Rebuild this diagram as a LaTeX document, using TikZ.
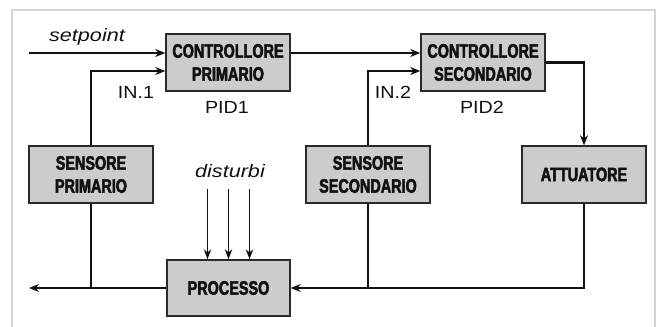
\documentclass[tikz,border=0pt]{standalone}
\usepackage{fontspec}
\setmainfont{Liberation Sans}
\newfontfamily\boxfont[FakeStretch=0.74, FakeBold=2.5]{Liberation Sans Bold}
\newfontfamily\lblfont[FakeStretch=1.12]{Liberation Sans}
\newfontfamily\itfont[FakeStretch=1.2]{Liberation Sans Italic}
\usetikzlibrary{arrows.meta,calc}
\definecolor{boxfill}{HTML}{CCCCCC}
\definecolor{boxdraw}{HTML}{2A2A2A}
\definecolor{framegray}{HTML}{D4D4D4}
\definecolor{ink}{HTML}{111111}
\tikzset{
  blockbox/.style={draw=boxdraw, fill=boxfill, line width=1.1pt, minimum width=124*0.75pt, minimum height=57*0.75pt, inner sep=0pt, align=center, font=\boxfont\fontsize{14.6}{17.25}\selectfont, text=ink},
  sig/.style={draw=ink, line width=1.8pt, -{Stealth[length=7.5pt,width=6pt]}},
  plain/.style={draw=ink, line width=1.8pt},
  dist/.style={draw=ink, line width=1.1pt, -{Stealth[length=7.5pt,width=5.5pt]}},
  lbl/.style={font=\lblfont\fontsize{13.2}{15}\selectfont, text=ink, anchor=base, inner sep=0pt},
  itlbl/.style={font=\itfont\fontsize{13.5}{15}\selectfont, text=ink, anchor=base, inner sep=0pt}
}
\begin{document}
\begin{tikzpicture}[x=0.75pt, y=-0.75pt]
\useasboundingbox (0,0) rectangle (657,327);
% frame
\draw[framegray, line width=0.8pt] (12,330) -- (12,10) -- (655,10) -- (655,330);
% blocks
\node[blockbox] (cp) at (228,62.5) {CONTROLLORE\\PRIMARIO};
\node[blockbox] (cs) at (483,62.5) {CONTROLLORE\\SECONDARIO};
\node[blockbox] (sp) at (91,174.5) {SENSORE\\PRIMARIO};
\node[blockbox] (ss) at (368,174.5) {SENSORE\\SECONDARIO};
\node[blockbox] (at) at (584,174.5) {ATTUATORE};
\node[blockbox, minimum width=123*0.75pt, minimum height=56*0.75pt] (pr) at (228.5,288) {PROCESSO};
% labels
\node[itlbl] (setp) at (87,42) {setpoint};
\node[lbl] (in1) at (136,99) {IN.1};
\node[lbl] (pid1) at (227,114) {PID1};
\node[lbl] (in2) at (393,99) {IN.2};
\node[lbl] (pid2) at (482,114) {PID2};
\node[itlbl] (dist) at (230,178) {disturbi};
% free ends
\coordinate (spin) at (29,53);
\coordinate (out) at (29,288);
% connectors
\draw[sig] (spin) -- ($(cp.west)+(0,-9.5)$);
\draw[sig] (sp.north) |- ($(cp.west)+(0,8.5)$);
\draw[sig] ($(cp.east)+(0,-9.5)$) -- ($(cs.west)+(0,-9.5)$);
\draw[sig] (ss.north) |- ($(cs.west)+(0,8.5)$);
\draw[sig] (cs.east) -| (at.north);
\draw[sig] (at.south) |- (pr.east);
\draw[plain] (ss.south) -- (ss.south |- pr.east);
\draw[sig] (pr.west) -- (out);
\draw[plain] (sp.south) -- (sp.south |- pr.west);
% disturbances
\foreach \dx in {-21,0,21} {
  \draw[dist] ($(pr.north)+(\dx,-70)$) -- ($(pr.north)+(\dx,0)$);
}
\end{tikzpicture}
\end{document}
